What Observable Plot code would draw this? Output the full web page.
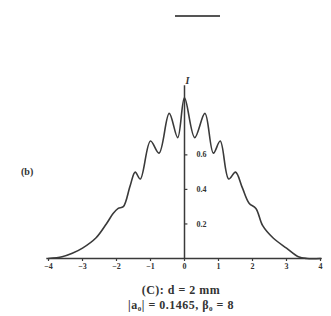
<!DOCTYPE html>
<html><head><meta charset="utf-8">
<script src="https://cdn.jsdelivr.net/npm/d3@7"></script>
<script src="https://cdn.jsdelivr.net/npm/@observablehq/plot@0.6"></script>
<style>
body{margin:0;background:#fff;font-family:"Liberation Serif",serif;}
#wrap{position:relative;width:331px;height:316px;overflow:hidden;}
#bar{position:absolute;left:175px;top:15px;width:45px;height:0;border-top:2px solid #555;}
#lab{position:absolute;left:21px;top:166px;font-size:10px;color:#333;font-weight:bold;}
.cap{position:absolute;left:0;width:362px;text-align:center;font-size:12px;line-height:13px;color:#333;font-weight:bold;letter-spacing:0.5px;}
.cap sub{font-size:7px;line-height:0;vertical-align:-2px;}
</style></head>
<body><div id="wrap"><div id="bar"></div><div id="lab">(b)</div><div id="chart"></div>
<div class="cap" style="top:284px">(C): d = 2 mm</div>
<div class="cap" style="top:299px">|a<sub>0</sub>| = 0.1465, β<sub>0</sub> = 8</div>
</div>
<script>
const xs = [-4,-3.6,-3.3,-3.0,-2.6,-2.3,-2.1,-1.95,-1.8,-1.6,-1.45,-1.3,-1.0,-0.75,-0.45,-0.2,0,0.3,0.6,0.85,1.05,1.3,1.5,1.7,1.9,2.1,2.3,2.6,3.0,3.35,3.6,4];
const intensity = [0,0.01,0.03,0.06,0.12,0.20,0.26,0.29,0.30,0.42,0.50,0.46,0.68,0.61,0.84,0.70,0.93,0.70,0.84,0.61,0.68,0.46,0.50,0.41,0.32,0.29,0.19,0.12,0.06,0.01,0,0];
const xTicks = [-4,-3,-2,-1,0,1,2,3,4];
const yTicks = [0.2,0.4,0.6];
const yTickLabels = ["0.2","0.4","0.6"];
const yLabel = "I";

const data = xs.map((x,i)=>({x, y: intensity[i]}));
const yt = yTicks.map((v,i)=>({v, t: yTickLabels[i]}));
const ink = "#3a3a3a";

const chart = Plot.plot({
  width: 331, height: 280,
  marginLeft: 48, marginRight: 11, marginTop: 68, marginBottom: 22,
  x: {domain: [-4, 4]},
  y: {domain: [0, 1.1], axis: null},
  style: {fontFamily: "Liberation Serif, serif", color: "#333"},
  marks: [
    Plot.ruleY([0], {x1: -4.05, x2: 4.05, stroke: ink, strokeWidth: 1.5}),
    Plot.axisX(xTicks, {tickSize: 3, fontSize: 8, fontWeight: "bold", fill: "#333", stroke: ink, strokeWidth: 1.2, tickPadding: 2, label: null}),
    Plot.ruleX([0], {y1: 0, y2: 1.0, stroke: ink, strokeWidth: 1.5}),
    Plot.ruleY(yt, {y: "v", x1: 0, x2: 0.1, stroke: ink, strokeWidth: 1.2}),
    Plot.text(yt, {y: "v", x: 0, text: "t", dx: 12, textAnchor: "start", fontSize: 8, fontWeight: "bold", fill: "#333"}),
    Plot.text([yLabel], {x: 0, y: 1.0, text: d => d, dx: 3, dy: -5, fontSize: 10, fontStyle: "italic", fontWeight: "bold", fill: "#333"}),
    Plot.line(data, {x: "x", y: "y", curve: "catmull-rom", stroke: ink, strokeWidth: 1.6})
  ]
});
document.getElementById("chart").append(chart);
</script></body></html>
